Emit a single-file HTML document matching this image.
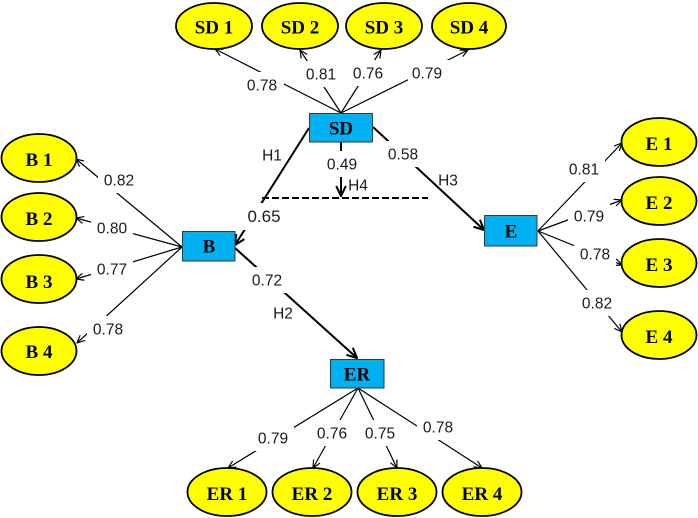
<!DOCTYPE html>
<html>
<head>
<meta charset="utf-8">
<style>
  html, body { margin: 0; padding: 0; background: #fff; }
  body { width: 698px; height: 518px; overflow: hidden; }
  svg { display: block; }
  .num { font-family: "Liberation Sans", "DejaVu Sans", sans-serif; font-size: 15.5px; fill: #1a1a1a; text-anchor: middle; }
  .big { font-size: 17px; }
  .nm { font-family: "Liberation Serif", "DejaVu Serif", serif; font-weight: bold; font-size: 19px; fill: #000; text-anchor: middle; }
</style>
</head>
<body>
<svg width="698" height="518" viewBox="0 0 698 518" xmlns="http://www.w3.org/2000/svg">
  <defs>
    <marker id="a" viewBox="0 0 10 10" refX="9.5" refY="5" markerWidth="9" markerHeight="9" orient="auto" markerUnits="userSpaceOnUse">
      <path d="M1,1 L9.5,5 L1,9" fill="none" stroke="#000" stroke-width="1.3"/>
    </marker>
    <marker id="b" viewBox="0 0 10 10" refX="9.3" refY="5" markerWidth="12" markerHeight="12" orient="auto" markerUnits="userSpaceOnUse">
      <path d="M1,1 L9.3,5 L1,9" fill="none" stroke="#000" stroke-width="1.7"/>
    </marker>
  </defs>

  <!-- loading lines -->
  <g stroke="#000" stroke-width="1.2" fill="none" marker-end="url(#a)">
    <line x1="341" y1="113" x2="215" y2="49"/>
    <line x1="341" y1="113" x2="300" y2="50"/>
    <line x1="341" y1="113" x2="381" y2="50"/>
    <line x1="341" y1="113" x2="468" y2="50"/>

    <line x1="182" y1="247" x2="76" y2="159"/>
    <line x1="182" y1="247" x2="76" y2="218"/>
    <line x1="182" y1="247" x2="76" y2="279"/>
    <line x1="182" y1="247" x2="77" y2="343"/>

    <line x1="538" y1="231" x2="622" y2="143"/>
    <line x1="538" y1="231" x2="622" y2="200"/>
    <line x1="538" y1="231" x2="622" y2="265"/>
    <line x1="538" y1="231" x2="622" y2="332"/>

    <line x1="358" y1="388" x2="228" y2="468"/>
    <line x1="358" y1="388" x2="313" y2="468"/>
    <line x1="358" y1="388" x2="397" y2="468"/>
    <line x1="358" y1="388" x2="482" y2="468"/>
  </g>

  <!-- structural paths -->
  <g stroke="#000" stroke-width="2" fill="none">
    <line x1="309" y1="128" x2="235" y2="245" marker-end="url(#b)"/>
    <line x1="373" y1="127" x2="484" y2="230" marker-end="url(#b)"/>
    <line x1="235" y1="248" x2="357" y2="358" marker-end="url(#b)"/>
    <line x1="341" y1="142" x2="341" y2="196" marker-end="url(#b)"/>
    <line x1="262" y1="198" x2="428" y2="198" stroke-dasharray="7,3"/>
  </g>

  <!-- label backgrounds -->
  <g fill="#fff">
    <rect x="242" y="72" width="42" height="26"/>
    <rect x="301" y="61" width="42" height="26"/>
    <rect x="347" y="60" width="42" height="26"/>
    <rect x="408" y="60" width="42" height="26"/>

    <rect x="98" y="167" width="42" height="26"/>
    <rect x="91" y="215" width="42" height="26"/>
    <rect x="91" y="256" width="42" height="26"/>
    <rect x="87" y="316" width="42" height="26"/>

    <rect x="563" y="156" width="42" height="26"/>
    <rect x="568" y="203" width="42" height="26"/>
    <rect x="574" y="241" width="42" height="26"/>
    <rect x="576" y="290" width="42" height="26"/>

    <rect x="252" y="425" width="42" height="26"/>
    <rect x="311" y="420" width="42" height="26"/>
    <rect x="359" y="420" width="42" height="26"/>
    <rect x="417" y="414" width="42" height="26"/>

    <rect x="242" y="203" width="44" height="27"/>
    <rect x="321" y="151" width="42" height="26"/>
    <rect x="382" y="141" width="42" height="26"/>
    <rect x="246" y="267" width="42" height="26"/>
  </g>

  <!-- numbers -->
  <g class="num">
    <text x="262" y="90.5">0.78</text>
    <text x="321" y="79.5">0.81</text>
    <text x="368" y="78.5">0.76</text>
    <text x="427" y="78.5">0.79</text>

    <text x="119" y="185.5">0.82</text>
    <text x="112" y="233.5">0.80</text>
    <text x="112" y="274.5">0.77</text>
    <text x="108" y="334.5">0.78</text>

    <text x="584" y="174.5">0.81</text>
    <text x="589" y="221.5">0.79</text>
    <text x="595" y="259.5">0.78</text>
    <text x="597" y="308.5">0.82</text>

    <text x="273" y="443.5">0.79</text>
    <text x="332" y="438.5">0.76</text>
    <text x="380" y="438.5">0.75</text>
    <text x="438" y="432.5">0.78</text>

    <text class="big" x="264" y="222">0.65</text>
    <text x="342" y="169.5">0.49</text>
    <text x="403" y="159.5">0.58</text>
    <text x="267" y="285.5">0.72</text>

    <text x="272" y="160.5">H1</text>
    <text x="358" y="190.5">H4</text>
    <text x="448" y="185.5">H3</text>
    <text x="283" y="318.5">H2</text>
  </g>

  <!-- boxes -->
  <g fill="#00b0f0" stroke="#3a3a3a" stroke-width="1">
    <rect x="309.5" y="113.5" width="63" height="28.5"/>
    <rect x="182.5" y="231.5" width="52.5" height="29.5"/>
    <rect x="484.5" y="215.5" width="52.5" height="30.5"/>
    <rect x="330.5" y="359.5" width="53.5" height="28.5"/>
  </g>
  <g class="nm">
    <text x="341" y="134.5">SD</text>
    <text x="209" y="252.5">B</text>
    <text x="511" y="237.5">E</text>
    <text x="357" y="380.5">ER</text>
  </g>

  <!-- ellipses -->
  <g fill="#ffff00" stroke="#000" stroke-width="1.8">
    <ellipse cx="214" cy="26" rx="38" ry="23"/>
    <ellipse cx="300" cy="26" rx="38" ry="23"/>
    <ellipse cx="384" cy="26" rx="38" ry="23"/>
    <ellipse cx="469" cy="26" rx="37" ry="23"/>

    <ellipse cx="39" cy="158" rx="37.5" ry="24"/>
    <ellipse cx="39" cy="217" rx="37.5" ry="24"/>
    <ellipse cx="39" cy="279" rx="37.5" ry="24"/>
    <ellipse cx="39" cy="351" rx="37.5" ry="24"/>

    <ellipse cx="659" cy="142" rx="37.5" ry="24"/>
    <ellipse cx="659" cy="201" rx="37.5" ry="24"/>
    <ellipse cx="659" cy="263" rx="37.5" ry="24"/>
    <ellipse cx="659" cy="335" rx="37.5" ry="24"/>

    <ellipse cx="227" cy="492" rx="39.5" ry="24"/>
    <ellipse cx="312" cy="492" rx="39.5" ry="24"/>
    <ellipse cx="397" cy="492" rx="39.5" ry="24"/>
    <ellipse cx="482" cy="492" rx="39.5" ry="24"/>
  </g>
  <g class="nm">
    <text x="214" y="33.5">SD 1</text>
    <text x="300" y="33.5">SD 2</text>
    <text x="384" y="33.5">SD 3</text>
    <text x="469" y="33.5">SD 4</text>

    <text x="39" y="166">B 1</text>
    <text x="39" y="225">B 2</text>
    <text x="39" y="288">B 3</text>
    <text x="39" y="358">B 4</text>

    <text x="659" y="150">E 1</text>
    <text x="659" y="209">E 2</text>
    <text x="659" y="271">E 3</text>
    <text x="659" y="343">E 4</text>

    <text x="227" y="500">ER 1</text>
    <text x="312" y="500">ER 2</text>
    <text x="397" y="500">ER 3</text>
    <text x="482" y="500">ER 4</text>
  </g>
</svg>
</body>
</html>
